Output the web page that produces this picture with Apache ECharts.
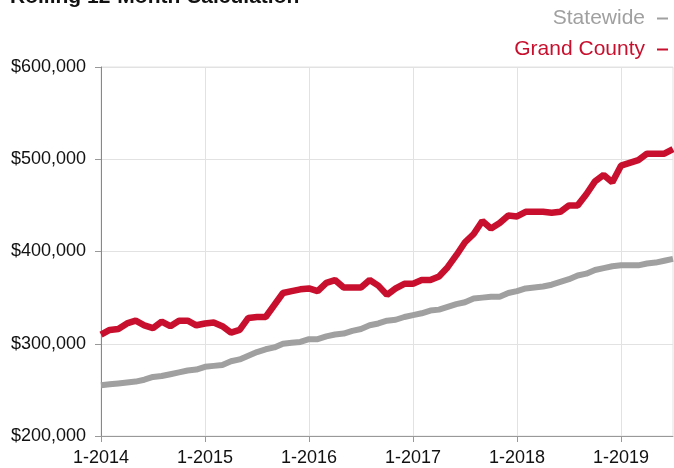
<!DOCTYPE html>
<html>
<head>
<meta charset="utf-8">
<script src="https://cdn.jsdelivr.net/npm/echarts@6/dist/echarts.min.js"></script>
<style>html,body{margin:0;padding:0;background:#fff;}#c{width:674px;height:468px;}</style>
</head>
<body>
<div id="c"></div>
<script>
// Months 1-2014 .. 7-2019
const months = [];
for (let y = 2014; y <= 2019; y++) {
  for (let m = 1; m <= 12; m++) {
    if (y === 2019 && m > 7) break;
    months.push(m + '-' + y);
  }
}
const statewide = [
  255000,256000,257000,258000,259000,261000,264000,265000,267000,269000,271000,272000,
  275000,276000,277000,281000,283000,287000,291000,294000,296000,300000,301000,302000,
  305000,305000,308000,310000,311000,314000,316000,320000,322000,325000,326000,329000,
  331000,333000,336000,337000,340000,343000,345000,349000,350000,351000,351000,355000,
  357000,360000,361000,362000,364000,367000,370000,374000,376000,380000,382000,384000,
  385000,385000,385000,387000,388000,390000,392000
];
const grandCounty = [
  310000,315000,316000,322000,325000,320000,317000,324000,319000,325000,325000,320000,
  322000,323000,319000,312000,315000,328000,329000,329000,342000,355000,357000,359000,
  360000,357000,366000,369000,361000,361000,361000,369000,363000,353000,360000,365000,
  365000,369000,369000,373000,383000,396000,410000,419000,433000,425000,431000,439000,
  438000,443000,443000,443000,442000,443000,450000,450000,462000,476000,483000,475000,
  493000,496000,499000,506000,506000,506000,511000
];
const seriesNames = ['Statewide', 'Grand County'];
const seriesColors = ['#A0A0A0', '#C8102E'];
const titleText = 'Rolling 12-Month Calculation';

const chart = echarts.init(document.getElementById('c'));
const yearTick = (i) => i % 12 === 0;
chart.setOption({
  animation: false,
  textStyle: { fontFamily: 'Liberation Sans, Arial, sans-serif' },
  graphic: [{
    type: 'text', left: 10, top: -13,
    style: { text: titleText, fontSize: 21, fontWeight: 'bold', fill: '#111', fontFamily: 'Liberation Sans, Arial, sans-serif' }
  }],
  legend: {
    orient: 'vertical', right: 1, top: 3, align: 'right',
    itemGap: 10, itemWidth: 11, itemHeight: 2, icon: 'rect',
    textStyle: { fontSize: 21, padding: [0, 7, 0, 0] },
    data: seriesNames.map((n, i) => ({ name: n, textStyle: { color: seriesColors[i] } }))
  },
  grid: { left: 101, right: 1, top: 67, bottom: 32, show: true, borderColor: '#e2e2e2', borderWidth: 1 },
  xAxis: {
    type: 'category', data: months, boundaryGap: false,
    axisLine: { lineStyle: { color: '#999', width: 1 } },
    axisTick: { interval: (i) => yearTick(i), length: 6, lineStyle: { color: '#999' } },
    axisLabel: { interval: (i) => yearTick(i), color: '#111', fontSize: 18, margin: 13 },
    splitLine: { show: true, interval: (i) => yearTick(i), lineStyle: { color: '#e2e2e2' } }
  },
  yAxis: {
    type: 'value', min: 200000, max: 600000, interval: 100000,
    axisLine: { show: true, lineStyle: { color: '#888', width: 1 } },
    axisTick: { show: true, length: 6, lineStyle: { color: '#999' } },
    axisLabel: { color: '#111', fontSize: 18, margin: 15, formatter: (v) => '$' + v.toLocaleString('en-US') },
    splitLine: { lineStyle: { color: '#e2e2e2' } }
  },
  series: [
    { name: seriesNames[0], type: 'line', data: statewide, symbol: 'none', color: seriesColors[0], lineStyle: { width: 6, color: seriesColors[0] }, z: 2 },
    { name: seriesNames[1], type: 'line', data: grandCounty, symbol: 'none', color: seriesColors[1], lineStyle: { width: 6.5, color: seriesColors[1] }, z: 3 }
  ]
});
</script>
</body>
</html>
